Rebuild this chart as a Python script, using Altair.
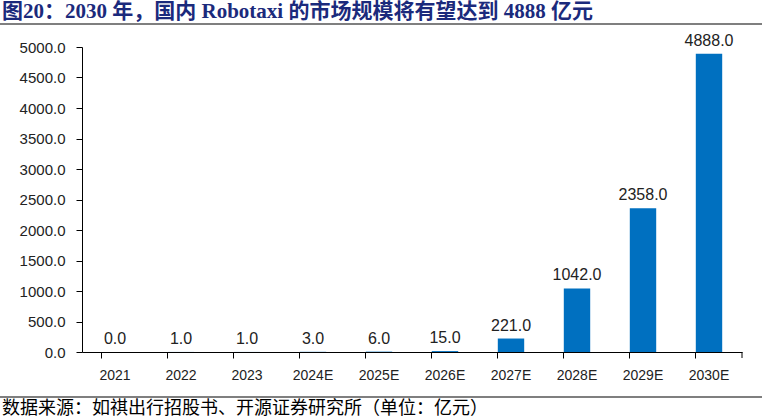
import altair as alt
import pandas as pd

years = ["2021", "2022", "2023", "2024E", "2025E", "2026E", "2027E", "2028E", "2029E", "2030E"]
values = [0.0, 1.0, 1.0, 3.0, 6.0, 15.0, 221.0, 1042.0, 2358.0, 4888.0]
y_ticks = [0, 500, 1000, 1500, 2000, 2500, 3000, 3500, 4000, 4500, 5000]
title_text = "图20：2030 年，国内 Robotaxi 的市场规模将有望达到 4888 亿元"
source_text = "数据来源：如祺出行招股书、开源证券研究所（单位：亿元）"

df = pd.DataFrame({"year": years, "value": values})

W, H = 660, 305
num_font = "Liberation Sans"

x = alt.X("year:N", sort=years, title=None,
          scale=alt.Scale(paddingInner=0.6, paddingOuter=0.3),
          axis=alt.Axis(labelAngle=0, labelFont=num_font, labelFontSize=14, labelColor="#222",
                        domainColor="#000", tickColor="#000", tickSize=6, bandPosition=0,
                        labelPadding=10, ticks=True, grid=False))
y = alt.Y("value:Q", title=None,
          scale=alt.Scale(domain=[0, 5000], nice=False),
          axis=alt.Axis(values=y_ticks, format=".1f", labelFont=num_font,
                        labelFontSize=15, labelColor="#222", domainColor="#000",
                        tickColor="#000", tickSize=6, labelPadding=11, grid=False,
                        labelOverlap=False))

base = alt.Chart(df)
bars = base.mark_bar(color="#0070C0").encode(x=x, y=y)
labels = base.mark_text(dy=-13, font=num_font, fontSize=16, color="#222").encode(
    x=x, y=y, text=alt.Text("value:Q", format=".1f"))

end_tick = alt.Chart(pd.DataFrame({"a": [0]})).mark_rule(color="#000").encode(
    x=alt.value(W), y=alt.value(H), y2=alt.value(H + 6))

title = alt.Chart(pd.DataFrame({"t": [title_text]})).mark_text(
    align="left", baseline="middle", font="Liberation Serif, Noto Sans CJK SC",
    fontWeight="bold", fontSize=21, color="#1B2A7C").encode(
    text="t:N", x=alt.value(-80), y=alt.value(-35))
title_line = alt.Chart(pd.DataFrame({"a": [0]})).mark_rule(color="#000", strokeWidth=1.2).encode(
    x=alt.value(-82), x2=alt.value(680), y=alt.value(-23))
foot_line = alt.Chart(pd.DataFrame({"a": [0]})).mark_rule(color="#000", strokeWidth=1.2).encode(
    x=alt.value(-82), x2=alt.value(680), y=alt.value(350))
footer = alt.Chart(pd.DataFrame({"t": [source_text]})).mark_text(
    align="left", baseline="middle", font="Noto Sans CJK SC", fontSize=18, color="#000").encode(
    text="t:N", x=alt.value(-80), y=alt.value(362))

chart = alt.layer(bars, labels, end_tick, title, title_line, foot_line, footer).properties(
    width=W, height=H,
    autosize=alt.AutoSizeParams(type="none"),
    padding={"left": 82, "top": 47, "right": 20, "bottom": 66},
    background="white",
).configure_view(stroke=None)

chart.save("out.html", embed_options={"renderer": "svg", "actions": False})
